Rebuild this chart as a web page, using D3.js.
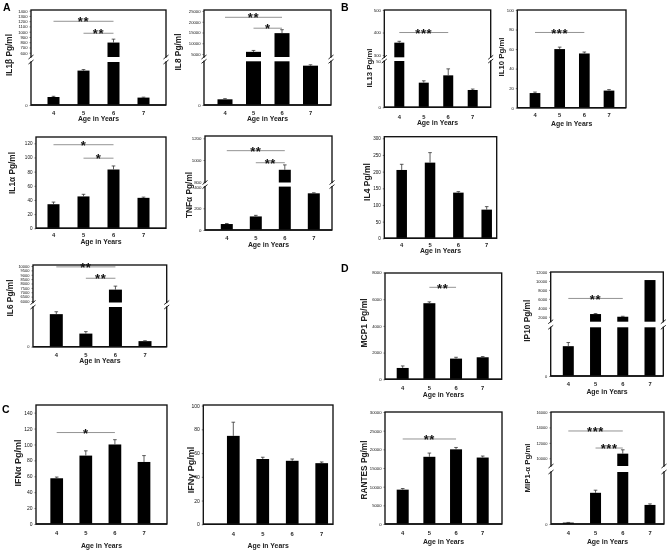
<!DOCTYPE html>
<html><head><meta charset="utf-8">
<script src="https://cdn.jsdelivr.net/npm/d3@7"></script>
<style>body{margin:0;background:#fff} svg{filter:grayscale(1)} svg text{font-family:"Liberation Sans",Arial,sans-serif}</style>
</head><body><svg id="c" width="669" height="554"></svg>
<script>
const ages = ["4","5","6","7"];
// Panel A
const il1bMean=[93,400,793,86], il1bErr=[8,12,65,5];
const il8Mean=[520,6000,14700,3600], il8Err=[60,650,1600,80];
const il1aMean=[34,45,83,43], il1aErr=[3,3,5,1];
const tnfaMean=[55,125,910,338], tnfaErr=[5,10,45,5];
const il6Mean=[4100,1650,7300,700], il6Err=[300,250,400,50];
// Panel B
const il13Mean=[355,26.6,34.5,18.7], il13Err=[6,2,7,1];
const il10Mean=[15,60,55.5,17.5], il10Err=[1,2,1.5,1];
const il4Mean=[205,227,137,86], il4Err=[17,30,3,9];
// Panel C
const ifnaMean=[57.5,86,100,78], ifnaErr=[1.5,6,6,8];
const ifngMean=[74.5,55,53.5,51.5], ifngErr=[11.5,1.5,1.5,1];
// Panel D
const mcp1Mean=[850,5700,1550,1650], mcp1Err=[150,100,100,50];
const ip10Mean=[490,2600,2000,10200], ip10Err=[60,100,100,0];
const rantesMean=[9200,18000,20000,17800], rantesErr=[300,1000,500,400];
const mip1aMean=[80,1800,10600,1100], mip1aErr=[10,150,500,60];

// tick labels
const il1bTicks=[600,700,800,900,1000,1100,1200,1300,1400];
const il8Ticks=[5000,10000,15000,20000,25000];
const il1aTicks=[0,20,40,60,80,100,120];
const tnfaLowTicks=[0,200,400], tnfaUpTicks=[800,1000,1200];
const il6Ticks=[6000,6500,7000,7500,8000,8500,9000,9500,10000];
const il13LowTicks=[0,50], il13UpTicks=[300,400,500];
const il10Ticks=[0,20,40,60,80,100];
const il4Ticks=[0,50,100,150,200,250,300];
const ifnaTicks=[0,20,40,60,80,100,120,140];
const ifngTicks=[0,20,40,60,80,100];
const mcp1Ticks=[0,2000,4000,6000,8000];
const ip10Ticks=[2000,4000,6000,8000,10000,12000];
const rantesTicks=[0,5000,10000,15000,20000,25000,30000];
const mip1aTicks=[10000,12000,14000,16000];
const zeroTick=[0];

// significance brackets: [from, to, label, level]
const il1bSig=[[0,2,"**",1198],[1,2,"**",970]];
const il8Sig=[[0,2,"**",22070],[1,2,"*",17000]];
const il1aSig=[[0,2,"*",118],[1,2,"*",99]];
const tnfaSig=[[0,2,"**",1086],[1,2,"**",975]];
const il6Sig=[[0,2,"**",9900],[1,2,"**",8600]];
const il13Sig=[[0,2,"***",400]];
const il10Sig=[[0,2,"***",77]];
const ifnaSig=[[0,2,"*",115]];
const mcp1Sig=[[1,2,"**",6890]];
const ip10Sig=[[0,2,"**",6090]];
const rantesSig=[[0,2,"**",22770]];
const mip1aSig=[[0,2,"***",13540],[1,2,"***",11330]];

const panelLetters=[["A",3,11],["B",341,11],["C",2,413],["D",341,272]];

const panels=[
 {title:"IL1β Pg/ml",mean:il1bMean,err:il1bErr,box:[31,10,166,105],cx:[53.5,143.5],bw:12,
  lower:{domain:[0,500],range:[105,62],ticks:zeroTick},upper:{domain:[518,1413],range:[57,10],ticks:il1bTicks},
  sig:il1bSig,tf:4.2,xl:115,age:120.5,tx:10,ty:55,ts:8.3},
 {title:"IL8 Pg/ml",mean:il8Mean,err:il8Err,box:[204,10,331,105],cx:[225,310.5],bw:15,
  lower:{domain:[0,4000],range:[105,61.3],ticks:zeroTick},upper:{domain:[3600,25465],range:[57,10],ticks:il8Ticks},
  sig:il8Sig,tf:4.2,xl:115,age:121,tx:179,ty:52,ts:8.3},
 {title:"IL1α Pg/ml",mean:il1aMean,err:il1aErr,box:[36,137,166,228.3],cx:[53.5,143.5],bw:12,
  y:{domain:[0,120],range:[228.3,143.3],ticks:il1aTicks},
  sig:il1aSig,tf:4.6,xl:236.7,age:244,tx:13,ty:173,ts:8.3},
 {title:"TNFα Pg/ml",mean:tnfaMean,err:tnfaErr,box:[205,136,332,230],cx:[226.8,313.8],bw:12,
  lower:{domain:[0,400],range:[230,186.6],ticks:tnfaLowTicks},upper:{domain:[793,1221],range:[182.5,136],ticks:tnfaUpTicks},
  sig:tnfaSig,tf:4.4,xl:240,age:247.3,tx:190,ty:195,ts:8.3},
 {title:"IL6 Pg/ml",mean:il6Mean,err:il6Err,box:[33,265,166.7,346.7],cx:[56.3,145],bw:13,
  lower:{domain:[0,5000],range:[346.7,307],ticks:zeroTick},upper:{domain:[5830,10114],range:[302.5,265],ticks:il6Ticks},
  sig:il6Sig,tf:4,xl:357.3,age:363,tx:10.5,ty:298,ts:8.3},
 {title:"IL13 Pg/ml",mean:il13Mean,err:il13Err,box:[384.3,10,490.7,107.3],cx:[399.3,472.7],bw:10,
  lower:{domain:[0,50],range:[107.3,61],ticks:il13LowTicks},upper:{domain:[290,500],range:[57.3,10],ticks:il13UpTicks},
  sig:il13Sig,tf:4.2,xl:118.5,age:125,tx:369.5,ty:68,ts:7.8},
 {title:"IL10 Pg/ml",mean:il10Mean,err:il10Err,box:[517.3,10,626,107.7],cx:[535,609],bw:10.7,
  y:{domain:[0,100],range:[107.7,10],ticks:il10Ticks},
  sig:il10Sig,tf:4.2,xl:116.5,age:125.5,tx:502,ty:57,ts:7.8},
 {title:"IL4 Pg/ml",mean:il4Mean,err:il4Err,box:[384.3,136.7,496.7,238.3],cx:[401.7,486.7],bw:10.5,
  y:{domain:[0,300],range:[238.3,138.3],ticks:il4Ticks},
  sig:[],tf:4.6,xl:247.3,age:253,tx:368,ty:182,ts:8.5},
 {title:"IFNα Pg/ml",mean:ifnaMean,err:ifnaErr,box:[36,405,167,524],cx:[56.7,144],bw:12.7,
  y:{domain:[0,150],range:[524,404.7],ticks:ifnaTicks},
  sig:ifnaSig,tf:5,xl:535,age:548.3,tx:18.3,ty:463,ts:9},
 {title:"IFNγ Pg/ml",mean:ifngMean,err:ifngErr,box:[203.3,405,333,524.3],cx:[233.3,321.7],bw:12.7,
  y:{domain:[0,100],range:[524.3,405.6],ticks:ifngTicks},
  sig:[],tf:5,xl:535.5,age:548,tx:191.7,ty:470,ts:9},
 {title:"MCP1 Pg/ml",mean:mcp1Mean,err:mcp1Err,box:[385,273,501.7,379.3],cx:[402.7,482.7],bw:12,
  y:{domain:[0,8000],range:[379.3,272.5],ticks:mcp1Ticks},
  sig:mcp1Sig,tf:4.2,xl:390,age:397.3,tx:365,ty:323,ts:8.5},
 {title:"IP10 Pg/ml",mean:ip10Mean,err:ip10Err,box:[550.7,272,663.3,376],cx:[568.3,650],bw:11,
  lower:{domain:[0,800],range:[376,327.3],ticks:zeroTick},upper:{domain:[890,12000],range:[321.7,272],ticks:ip10Ticks},
  sig:ip10Sig,tf:4,xl:386,age:394,tx:528.3,ty:320.7,ts:8.3},
 {title:"RANTES Pg/ml",mean:rantesMean,err:rantesErr,box:[385,412,502,524],cx:[402.7,482.7],bw:12,
  y:{domain:[0,30000],range:[524,412],ticks:rantesTicks},
  sig:rantesSig,tf:4.2,xl:535,age:543.5,tx:365,ty:470,ts:8.3},
 {title:"MIP1-α Pg/ml",mean:mip1aMean,err:mip1aErr,box:[551,412,664,524],cx:[568.3,650],bw:11,
  lower:{domain:[0,3000],range:[524,472],ticks:zeroTick},upper:{domain:[9000,16000],range:[466,412],ticks:mip1aTicks},
  sig:mip1aSig,tf:4,xl:535,age:543.5,tx:528.3,ty:468,ts:7.8}
];

const svg=d3.select("#c");
const fmt=d3.format("d");

function draw(p){
  const g=svg.append("g");
  const [bx0,by0,bx1,by1]=p.box;
  const x=d3.scalePoint().domain(ages).range(p.cx);
  const broken=!!p.upper;
  let yL,yU;
  if(broken){
    yL=d3.scaleLinear().domain(p.lower.domain).range(p.lower.range);
    yU=d3.scaleLinear().domain(p.upper.domain).range(p.upper.range);
  } else {
    yL=d3.scaleLinear().domain(p.y.domain).range(p.y.range);
    yU=yL;
  }
  // bars
  ages.forEach((a,i)=>{
    const v=p.mean[i], e=p.err[i], cx=x(a);
    let topY, s;
    if(!broken || v<=p.lower.domain[1]){
      s=yL; topY=yL(v);
      g.append("rect").attr("x",cx-p.bw/2).attr("y",topY).attr("width",p.bw).attr("height",yL(0)-topY).attr("fill","#000");
    } else {
      s=yU;
      g.append("rect").attr("x",cx-p.bw/2).attr("y",yL(p.lower.domain[1])).attr("width",p.bw)
        .attr("height",yL(0)-yL(p.lower.domain[1])).attr("fill","#000");
      topY=yU(v);
      g.append("rect").attr("x",cx-p.bw/2).attr("y",topY).attr("width",p.bw)
        .attr("height",yU(p.upper.domain[0])-topY).attr("fill","#000");
    }
    if(e>0){
      const ey=s(v+e);
      g.append("line").attr("x1",cx).attr("x2",cx).attr("y1",topY).attr("y2",ey).attr("stroke","#333").attr("stroke-width",0.8);
      g.append("line").attr("x1",cx-1.8).attr("x2",cx+1.8).attr("y1",ey).attr("y2",ey).attr("stroke","#333").attr("stroke-width",0.8);
    }
  });
  // frame
  g.append("rect").attr("x",bx0).attr("y",by0).attr("width",bx1-bx0).attr("height",by1-by0)
    .attr("fill","none").attr("stroke","#111").attr("stroke-width",1.35);
  g.append("line").attr("x1",bx0).attr("x2",bx1).attr("y1",by1).attr("y2",by1).attr("stroke","#111").attr("stroke-width",1.6);
  if(broken){
    const gt=p.upper.range[0], gb=p.lower.range[1];
    [bx0,bx1].forEach(ex=>{
      g.append("rect").attr("x",ex-1.6).attr("y",gt+0.6).attr("width",3.2).attr("height",gb-gt-1.2).attr("fill","#fff");
      [gt,gb].forEach(yy=>{
        g.append("line").attr("x1",ex-2.5).attr("x2",ex+2.5).attr("y1",yy+2).attr("y2",yy-2).attr("stroke","#111").attr("stroke-width",0.9);
      });
    });
  }
  // axes
  const mkAxis=(sc,ticks)=>{
    const ax=g.append("g").attr("transform",`translate(${bx0},0)`)
      .call(d3.axisLeft(sc).tickValues(ticks).tickFormat(fmt).tickSize(1.5).tickPadding(2));
    ax.select(".domain").remove();
    ax.selectAll("text").attr("font-size",p.tf).attr("fill","#111").style("font-family","'Liberation Sans',Arial,sans-serif");
    ax.selectAll("line").attr("stroke","#222").attr("stroke-width",0.6);
  };
  if(broken){ mkAxis(yL,p.lower.ticks); mkAxis(yU,p.upper.ticks); }
  else mkAxis(yL,p.y.ticks);
  // x labels
  g.selectAll(".xl").data(ages).enter().append("text")
    .attr("x",d=>x(d)).attr("y",p.xl).attr("text-anchor","middle").attr("font-size",5.8).attr("font-weight","bold").attr("fill","#222").text(d=>d);
  g.append("text").attr("x",(bx0+bx1)/2).attr("y",p.age).attr("text-anchor","middle")
    .attr("font-size",6.9).attr("font-weight","bold").attr("fill","#222").text("Age in Years");
  g.append("text").attr("transform",`translate(${p.tx},${p.ty}) rotate(-90)`).attr("text-anchor","middle")
    .attr("dominant-baseline","middle").attr("font-size",p.ts).attr("font-weight","bold").attr("fill","#222").text(p.title);
  // significance
  p.sig.forEach(([i,j,lab,val])=>{
    const ly=yU(val);
    g.append("line").attr("x1",x(ages[i])).attr("x2",x(ages[j])).attr("y1",ly).attr("y2",ly).attr("stroke","#888").attr("stroke-width",0.9);
    g.append("text").attr("x",(x(ages[i])+x(ages[j]))/2).attr("y",ly+5.2).attr("text-anchor","middle")
      .attr("font-size",13).attr("font-weight","bold").attr("letter-spacing",0.6).attr("fill","#111").text(lab);
  });
}
panels.forEach(draw);
svg.selectAll(".pl").data(panelLetters).enter().append("text")
  .attr("x",d=>d[1]).attr("y",d=>d[2]).attr("font-size",10.5).attr("font-weight","bold").text(d=>d[0]);
</script></body></html>
